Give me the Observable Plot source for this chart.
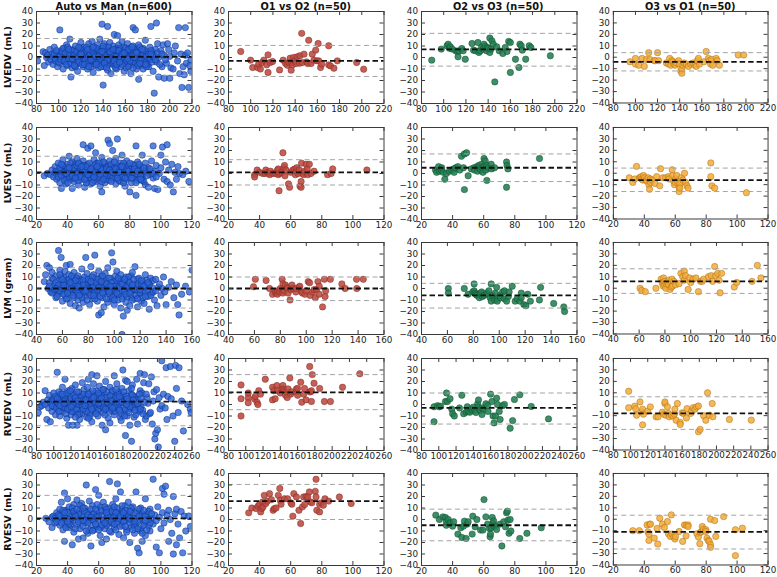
<!DOCTYPE html>
<html><head><meta charset="utf-8">
<script src="https://cdn.jsdelivr.net/npm/d3@7"></script>
<script src="https://cdn.jsdelivr.net/npm/@observablehq/plot@0.6"></script>
<style>
body{margin:0;background:#fff;}
#chart{position:relative;width:777px;height:577px;overflow:hidden;font-family:"DejaVu Sans",sans-serif;background:#fff;}
.ttl{position:absolute;font-weight:bold;font-size:9.8px;white-space:nowrap;color:#111;transform:translate(-50%,-50%);}
.ylab{position:absolute;font-weight:bold;font-size:9.5px;white-space:nowrap;color:#111;transform:translate(-50%,-50%) rotate(-90deg);}
.cell{position:absolute;}
</style></head><body><div id="chart"></div>
<script>
// ---------- labels ----------
const colTitles = ["Auto vs Man (n=600)", "O1 vs O2 (n=50)", "O2 vs O3 (n=50)", "O3 vs O1 (n=50)"];
const rowLabels = ["LVEDV (mL)", "LVESV (mL)", "LVM (gram)", "RVEDV (mL)", "RVESV (mL)"];
const xDomains = [[80,220],[20,120],[40,160],[80,260],[20,120]];
const xTickSets = [
  [80,100,120,140,160,180,200,220],
  [20,40,60,80,100,120],
  [40,60,80,100,120,140,160],
  [80,100,120,140,160,180,200,220,240,260],
  [20,40,60,80,100,120]
];
const yTicks = [-40,-30,-20,-10,0,10,20,30,40];

// ---------- bias and limits of agreement (per row) ----------
const biasAuto = [0.5, 1, 0, 2.5, 1];
const lowAuto  = [-15.5, -12, -17, -18.5, -18];
const highAuto = [16.5, 15, 18, 24, 21];
const biasO12 = [-3, 1, 0, 10.5, 16];
const lowO12  = [-16.5, -10, -10.5, -4.5, 0];
const highO12 = [10.5, 12, 10, 26, 30.5];
const biasO23 = [7, 5, -6, -3, -5];
const lowO23  = [-7.5, -7, -17, -17, -18.5];
const highO23 = [21, 17, 4.5, 10, 9];
const biasO31 = [-4, -6, 6, -8, -11];
const lowO31  = [-12, -16, -4.5, -22, -26];
const highO31 = [4, 4.5, 17, 6.5, 3.5];

// ---------- Auto vs Man ----------
const autoLVEDV = [[81,-3],[86,5],[87,-7],[88,4],[89,0],[90,2],[91,-4],[92,7],[93,-2],[94,3],[95,-6],[95,1],[96,9],[97,-3],[98,4],[99,-8],[99,0],[100,2],[101,24],[101,-5],[102,6],[103,-1],[104,3],[104,-10],[105,8],[106,0],[106,-4],[107,11],[108,2],[108,-7],[109,5],[110,16],[110,-2],[111,-17],[111,3],[112,-9],[113,7],[113,0],[114,-4],[115,10],[115,2],[116,-6],[117,4],[117,-12],[118,1],[119,8],[119,-3],[120,13],[120,-1],[121,5],[122,-8],[122,2],[123,9],[124,-4],[124,0],[125,6],[126,-10],[126,3],[127,12],[127,-2],[128,7],[128,-6],[129,1],[130,14],[130,-3],[131,4],[131,-13],[132,9],[132,0],[133,-7],[133,5],[134,2],[134,-4],[135,11],[135,-1],[136,6],[136,-9],[137,3],[137,16],[138,-5],[138,1],[139,29],[139,8],[139,-2],[140,-24],[140,4],[141,-8],[141,12],[142,0],[142,6],[143,-3],[143,9],[144,27],[144,-11],[144,2],[145,5],[145,-6],[146,13],[146,-1],[147,7],[147,-14],[148,3],[148,-4],[149,10],[149,0],[150,20],[150,-7],[150,5],[151,2],[151,-2],[152,8],[152,-10],[153,19],[153,1],[154,-5],[154,11],[155,4],[155,-1],[156,-8],[156,7],[157,0],[157,14],[158,-3],[158,5],[159,-12],[159,9],[160,2],[160,-5],[161,6],[161,-9],[162,0],[162,12],[163,-4],[163,3],[164,8],[164,-7],[165,1],[165,-14],[166,5],[166,-2],[167,26],[167,10],[168,-6],[168,3],[169,24],[169,-1],[170,7],[170,-10],[171,2],[171,-4],[172,-19],[172,11],[173,0],[173,5],[174,-7],[175,3],[176,-10],[176,8],[177,-3],[178,15],[178,1],[179,-5],[180,4],[181,-8],[182,9],[183,27],[183,-2],[184,5],[185,-12],[186,-31],[186,2],[187,7],[188,30],[188,-4],[189,12],[190,-17],[190,0],[192,6],[193,-8],[194,11],[195,-18],[195,2],[197,-5],[198,12],[199,7],[200,-18],[200,1],[201,-9],[203,-10],[204,4],[205,10],[207,-3],[208,26],[209,-14],[210,3],[211,-26],[212,-8],[213,-15],[214,26],[214,2],[215,-5],[216,4],[217,-26],[218,-7],[219,-2],[219,-12],
 [96,3],[97,-1],[98,6],[100,-4],[101,1],[102,-2],[103,5],[104,8],[105,-3],[106,4],[107,-6],[108,9],[109,-1],[110,3],[111,-5],[112,6],[113,-2],[114,2],[115,-8],[116,5],[117,0],[118,-4],[119,3],[120,7],[121,-6],[122,0],[123,4],[124,-2],[125,9],[126,-5],[127,1],[128,4],[129,-8],[130,6],[131,-1],[132,3],[133,-4],[134,8],[135,2],[136,-3],[137,5],[138,-8],[139,3],[140,-1],[141,7],[142,-4],[143,2],[144,-6],[145,9],[146,1],[147,-3],[148,6],[149,-5],[150,3],[151,-9],[152,1],[153,6],[154,-2],[155,8],[156,0],[157,-6],[158,3],[159,-1],[160,8],[161,-3],[162,4],[163,-8],[164,1],[165,6],[166,-4],[167,2],[168,7],[169,-5],[170,0],[171,5],[172,-2],[173,9],[174,2],[175,-5],[176,3],[177,6],[178,-3],[179,1],[180,-6],[181,3],[182,-1],[183,6],[184,-4],[185,1],[187,-2],[189,4],[191,-6],[193,3],[196,-2],
 [112,-1],[118,9],[121,2],[126,7],[129,-2],[133,1],[137,-1],[140,10],[144,-2],[147,4],[150,-3],[154,6],[157,3],[161,1],[164,-3],[168,0],[171,-7],[175,7],[179,-8],[183,3],[109,7],[114,-7],[123,-6],[131,9],[136,1],[141,-5],[146,5],[152,-6],[159,4],[163,7],[166,9],[170,4],[174,-1],[178,-6],[120,3],[127,-8],[134,-6],[139,5],[143,-9],[149,7],[155,-4],[162,-1],[167,-9],[173,-5]];
const autoLVESV = [[25,-2],[27,0],[29,-1],[30,3],[31,-3],[32,1],[32,6],[33,-5],[34,2],[34,9],[35,-1],[35,-8],[36,4],[36,-13],[37,0],[37,12],[38,-3],[38,6],[39,2],[39,-9],[40,8],[40,-2],[41,15],[41,1],[42,-5],[42,4],[43,-13],[43,10],[44,0],[44,-7],[45,6],[45,2],[46,-3],[46,13],[47,-10],[47,4],[48,0],[48,8],[49,-5],[49,2],[50,25],[50,11],[50,-2],[51,-12],[51,5],[52,1],[52,-6],[53,22],[53,8],[54,-3],[54,3],[55,24],[55,-9],[55,0],[56,6],[56,-4],[57,12],[57,1],[58,18],[58,-7],[58,4],[59,-1],[59,9],[60,2],[60,-5],[61,7],[61,-11],[62,-16],[62,0],[62,14],[63,4],[63,-3],[64,9],[64,-8],[65,1],[65,6],[66,29],[66,-2],[67,26],[67,11],[67,-6],[68,3],[68,-1],[69,20],[69,7],[70,-4],[70,2],[71,13],[71,-9],[72,30],[72,0],[73,5],[73,-2],[74,9],[74,-7],[75,1],[75,16],[76,-4],[76,4],[77,-11],[77,7],[78,0],[78,11],[79,-3],[80,-16],[80,5],[81,1],[81,-8],[82,8],[83,-2],[84,24],[84,-19],[84,3],[85,10],[86,-5],[86,1],[87,6],[88,16],[88,-3],[89,0],[90,9],[90,-10],[91,3],[92,-12],[92,5],[93,-1],[94,11],[95,24],[95,-4],[96,-13],[96,2],[97,7],[98,-14],[99,0],[100,5],[100,16],[101,23],[102,-5],[103,10],[104,25],[104,-7],[105,3],[106,-10],[107,8],[108,-16],[109,1],[110,-5],[111,6],[112,0],[114,-1],[116,2],[118,-7],
 [33,2],[34,-3],[35,5],[36,-2],[37,7],[38,1],[39,-5],[40,4],[41,-3],[42,9],[43,2],[44,-4],[45,8],[46,0],[47,-6],[48,5],[49,-2],[50,7],[51,1],[52,-8],[53,3],[54,9],[55,-4],[56,2],[57,-6],[58,8],[59,0],[60,-3],[61,5],[62,-7],[63,10],[64,1],[65,-5],[66,6],[67,-2],[68,8],[69,-4],[70,5],[71,-1],[72,7],[73,-6],[74,3],[75,-3],[76,9],[77,2],[78,-5],[79,6],[80,-1],[81,4],[82,-4],[83,7],[84,0],[85,-6],[86,5],[87,-2],[88,3],[89,-7],[90,2],
 [36,8],[38,-6],[40,-8],[42,0],[44,5],[46,7],[48,-3],[50,3],[52,6],[54,-1],[56,-8],[58,1],[60,9],[62,3],[64,-2],[66,2],[68,-7],[70,10],[72,-4],[74,6],[76,-8],[78,3],[80,9],[82,1],[84,-8],[86,8],[88,-6],[39,0],[41,5],[43,-2],[45,-4],[47,9],[49,6],[51,-5],[53,-1],[55,4],[57,-3],[59,6],[61,-1],[63,-5],[65,4],[67,3],[69,1],[71,4],[73,1],[75,6],[77,-4],[79,2],[81,-4],[83,4],[85,2],[87,-5],[89,5],[91,-2],[93,4],[95,0],[97,-3]];
const autoLVM = [[46,6],[47,12],[48,20],[49,0],[50,18],[50,5],[51,-3],[52,9],[52,14],[53,-3],[54,3],[55,-8],[55,11],[56,1],[57,33],[57,-5],[58,7],[58,16],[59,27],[59,-2],[60,4],[60,-11],[61,10],[61,0],[62,-6],[62,15],[63,20],[63,3],[64,-9],[64,7],[65,-1],[65,12],[66,21],[66,-13],[67,5],[67,-4],[68,9],[68,0],[69,-8],[69,14],[70,2],[70,-15],[71,6],[71,-3],[72,11],[72,-10],[73,-17],[73,1],[74,8],[74,-6],[75,4],[75,17],[76,-2],[76,-12],[77,10],[77,0],[78,27],[78,-7],[79,5],[79,13],[80,-4],[80,2],[81,-14],[81,8],[82,0],[82,19],[83,-9],[83,5],[84,12],[84,-3],[85,29],[85,1],[86,-6],[86,9],[87,-11],[87,3],[88,-23],[88,15],[89,-1],[89,6],[90,-21],[90,10],[91,-8],[91,2],[92,4],[92,-16],[93,13],[93,-3],[94,0],[94,7],[95,-12],[95,18],[96,3],[96,-5],[97,9],[97,-9],[98,31],[98,1],[99,23],[99,-2],[100,6],[100,-14],[101,11],[101,-6],[102,0],[102,15],[103,-10],[103,4],[104,8],[104,-3],[105,-17],[105,12],[106,-40],[106,2],[107,-24],[107,-7],[108,5],[108,-1],[109,10],[109,-12],[110,-19],[110,3],[111,-4],[111,7],[112,0],[112,-15],[113,11],[113,-8],[114,14],[114,-2],[115,4],[116,19],[116,-9],[117,1],[118,-16],[118,8],[119,-5],[120,3],[121,-11],[122,6],[122,-2],[123,-13],[124,12],[125,2],[126,-7],[127,-18],[128,9],[129,-4],[130,7],[131,-10],[132,8],[133,-15],[134,1],[136,-6],[137,0],[138,10],[140,-14],[142,1],[144,6],[146,-8],[148,3],[149,-14],[150,-23],[152,-5],[155,2],[158,-3],[160,16],
 [50,2],[52,-4],[53,8],[54,-1],[55,5],[56,-7],[57,3],[58,-2],[59,10],[60,0],[61,-5],[62,6],[63,-9],[64,2],[65,8],[66,-3],[67,11],[68,-6],[69,4],[70,-1],[71,9],[72,-4],[73,6],[74,1],[75,-8],[76,7],[77,-3],[78,3],[79,-10],[80,8],[81,0],[82,-6],[83,10],[84,2],[85,-4],[86,5],[87,-1],[88,8],[89,-7],[90,3],[91,11],[92,-3],[93,5],[94,-9],[95,1],[96,9],[97,-2],[98,5],[99,-8],[100,2],[101,-1],[102,7],[103,-5],[104,1],[105,6],[106,-9],[107,4],[108,-3],[109,2],[110,-7],[111,10],[112,5],[113,-2],[114,-10],[115,8],[116,-1],[117,-6],[118,3],[119,9],[120,-4],[121,4],[122,-8],[123,2],[124,-3],[125,7],[126,-1],[127,4],[128,-6],[129,1],[130,-3],
 [55,0],[58,12],[61,3],[64,-4],[67,0],[70,7],[73,-6],[76,3],[79,0],[82,6],[85,-9],[88,1],[91,-4],[94,4],[97,2],[100,-10],[103,9],[106,4],[109,-5],[112,-4],[115,0],[118,-9],[121,7],[124,-7],[127,3],[60,8],[66,5],[72,2],[78,-2],[84,-6],[90,6],[96,-3],[102,-4],[108,8],[114,3],[120,-1],[126,5],[132,-2],[135,4],[139,-3]];
const autoRVEDV = [[82,-7],[84,-2],[86,-1],[88,2],[90,12],[90,0],[92,-13],[93,4],[94,-3],[95,8],[96,-15],[97,1],[98,-6],[99,5],[100,10],[100,-2],[101,3],[102,-9],[103,6],[104,28],[104,0],[105,-4],[106,11],[107,-10],[107,2],[108,7],[109,-1],[110,15],[110,-6],[111,4],[112,-3],[113,22],[113,9],[114,0],[115,-12],[115,5],[116,2],[117,-18],[117,12],[118,-5],[119,7],[120,1],[120,-9],[121,14],[122,-18],[122,3],[123,-2],[124,9],[125,-7],[125,17],[126,0],[127,-18],[127,5],[128,-4],[129,11],[130,2],[130,-13],[131,7],[132,-1],[133,19],[133,-8],[134,4],[135,0],[135,13],[136,-5],[137,8],[138,-11],[138,2],[139,15],[140,22],[140,-3],[141,6],[142,-8],[142,10],[143,1],[144,26],[144,-15],[145,4],[146,-2],[146,18],[147,7],[148,-6],[149,12],[150,25],[150,0],[151,-10],[152,5],[153,16],[153,-4],[154,9],[155,1],[156,-18],[156,6],[157,-7],[158,13],[159,2],[160,-22],[160,20],[161,-3],[162,8],[163,-12],[164,4],[165,-16],[165,15],[166,0],[167,10],[168,-6],[169,3],[170,25],[170,-9],[171,7],[172,-1],[173,18],[174,-4],[175,11],[176,1],[177,-11],[178,-14],[178,6],[179,14],[180,30],[180,-2],[181,8],[182,-7],[183,-27],[183,21],[184,3],[185,20],[185,-10],[186,0],[187,12],[188,-18],[188,5],[189,-4],[190,-32],[190,9],[191,17],[192,-1],[193,-11],[194,7],[195,0],[196,22],[197,-17],[198,4],[199,-6],[200,27],[200,12],[201,-2],[202,10],[203,-5],[204,19],[205,26],[206,-13],[207,-10],[208,6],[209,1],[210,18],[211,-8],[212,-7],[213,24],[214,-17],[215,3],[216,11],[217,-30],[218,-25],[219,13],[220,-22],[221,-37],[222,6],[223,-4],[225,38],[225,-1],[227,9],[229,-3],[230,32],[231,-13],[232,7],[235,33],[236,5],[238,-10],[240,-32],[241,34],[242,14],[244,-7],[245,32],[248,3],[250,-23],[255,0],[258,-4],[259,-7],
 [96,2],[98,-1],[100,4],[102,7],[103,-3],[105,1],[106,-6],[108,9],[109,3],[111,-2],[112,6],[114,-8],[115,10],[117,1],[118,-3],[120,5],[121,-6],[123,8],[124,2],[126,-4],[127,11],[129,0],[130,-8],[132,6],[133,-2],[135,9],[136,3],[138,-6],[139,7],[141,0],[142,-10],[144,5],[145,12],[147,-3],[148,2],[150,8],[151,-5],[153,4],[154,-1],[156,10],[157,0],[159,-9],[160,6],[162,2],[163,-4],[165,8],[166,-2],[168,12],[169,4],[171,-6],[172,1],[174,9],[175,-3],[177,5],[178,-8],[180,2],[181,11],[183,-4],[184,7],[186,-1],[187,-7],[189,3],[190,14],[192,-3],[193,6],[195,-9],[196,4],[198,-2],[199,9],[201,5],[203,-8],[205,2],[207,9],
 [104,5],[107,-1],[110,9],[113,3],[116,-4],[119,12],[122,0],[125,6],[128,-9],[131,3],[134,-4],[137,4],[140,9],[143,-2],[146,6],[149,-8],[152,1],[155,6],[158,-3],[161,11],[164,-6],[167,3],[170,-2],[173,6],[176,-5],[179,2],[182,-10],[185,5],[188,-2],[191,8],[194,-5],[197,1],[112,1],[120,-2],[128,3],[136,-1],[144,-4],[152,10],[160,-4],[168,-3],[176,7],[184,0],[192,4],[200,-4],[125,-11],[140,-12],[157,13],[172,13]];
const autoRVESV = [[26,1],[28,-2],[30,-7],[30,2],[31,3],[32,-3],[33,6],[34,0],[35,-5],[35,9],[36,15],[36,2],[37,-9],[37,5],[38,-19],[38,23],[38,-1],[39,8],[39,-4],[40,18],[40,1],[41,-7],[41,11],[42,3],[42,-2],[43,-22],[43,7],[44,-11],[44,13],[45,0],[45,5],[46,-5],[46,17],[47,-17],[47,2],[48,9],[48,-8],[49,-1],[49,14],[50,-16],[50,4],[51,-3],[51,10],[52,30],[52,0],[53,7],[53,-12],[54,2],[54,16],[55,-23],[55,-5],[56,5],[56,12],[57,-1],[57,-9],[58,26],[58,3],[59,8],[59,-6],[60,21],[60,0],[61,-14],[61,11],[62,-20],[62,4],[63,-2],[63,15],[64,7],[64,-8],[65,-17],[65,1],[66,10],[66,-4],[67,33],[67,5],[68,-11],[68,2],[69,13],[69,-1],[70,-7],[70,8],[71,3],[71,18],[72,31],[72,-3],[73,6],[73,-13],[74,24],[74,0],[75,9],[75,-5],[76,2],[76,-16],[77,12],[77,-1],[78,5],[78,-9],[79,0],[79,15],[80,-20],[80,3],[81,-6],[81,8],[82,-2],[82,11],[83,-12],[83,1],[84,24],[84,-4],[85,-25],[85,6],[86,-29],[86,0],[87,-8],[87,10],[88,-19],[88,3],[89,-3],[90,18],[90,-14],[91,5],[92,-6],[93,-10],[93,9],[94,1],[95,35],[95,-4],[96,4],[97,-24],[97,-1],[98,11],[99,-29],[99,2],[100,-8],[101,27],[101,6],[102,22],[102,-3],[103,29],[104,4],[105,-19],[105,8],[106,0],[107,-12],[108,20],[108,-30],[109,5],[110,-22],[110,9],[111,-4],[112,-16],[113,7],[114,-29],[115,3],[116,-10],[118,3],[119,-6],
 [32,1],[33,-2],[34,4],[36,-3],[37,8],[38,2],[39,-7],[40,6],[41,0],[42,-5],[43,10],[44,2],[45,-8],[46,4],[47,-2],[48,12],[49,3],[50,-6],[51,7],[52,-1],[53,4],[54,-9],[55,9],[56,0],[57,5],[58,-4],[59,13],[60,3],[61,-7],[62,8],[63,-1],[64,11],[65,-5],[66,4],[67,-10],[68,7],[69,-3],[70,2],[71,-9],[72,10],[73,1],[74,-6],[75,5],[76,-2],[77,8],[78,-11],[79,4],[80,-3],[81,10],[82,1],[83,-6],[84,6],[85,-2],[86,9],[87,-10],[88,5],[89,-5],[90,3],[91,-9],[92,7],[93,-3],[94,5],
 [35,3],[38,6],[41,-4],[44,7],[47,5],[50,10],[53,-3],[56,-10],[59,2],[62,-5],[65,9],[68,-2],[71,6],[74,3],[77,-6],[80,7],[83,-2],[86,3],[89,8],[92,0],[40,-2],[45,3],[50,-1],[55,2],[60,-9],[65,6],[70,-4],[75,12],[80,1],[85,-8],[90,-1],[46,9],[52,-10],[58,9],[64,-3],[70,11],[76,6],[82,-9],[88,-12]];

// ---------- O1 vs O2 ----------
const o12LVEDV = [[91,5.2],[99.9,-2.3],[101.8,-8.7],[106.2,-8.7],[107.1,-5.8],[108.7,-10],[110.3,-4.4],[111.8,-2.3],[114.4,-6.4],[115.6,2.3],[115.6,-13],[117.5,-4.4],[119.7,-3.5],[126,-10.8],[129.2,-2.3],[131.4,-5.2],[133,-6.7],[134.5,-4.4],[135.5,-0.6],[136.4,-11],[137,-4.4],[137.7,-6.4],[138.6,0],[139.6,-2.9],[140.9,-5.2],[141.8,0.6],[144,-5],[144.3,1.5],[145.9,21],[146.5,-4.4],[148,2.9],[150.3,-3.8],[151.3,-5.2],[152.2,15],[154.4,-5.2],[155.4,2.9],[156.9,-2.3],[158.5,6.4],[159.8,-2.9],[160.7,12.2],[161.3,-2.9],[162.9,-8.7],[163.9,-5.8],[170.2,-6.4],[170.2,10.2],[171.8,-7.3],[174.9,-9.3],[178,-2.9],[195.4,-4.4],[201.7,-10.2]];
const o12LVESV = [[36.8,-1],[36.8,-3],[38.4,3],[40,1],[42,0],[43.5,0],[44,3],[45,1],[46,0],[46.5,-1],[47,2],[48.7,0],[50.5,0],[51.5,3],[52,-1],[52,4],[52.5,-15],[53,0],[54,1],[55,18],[55.6,5],[56,7],[56.3,-2],[57,3],[58.6,-9],[59.3,-12],[60,1],[61.4,3],[62.5,4],[63,-1],[63.7,2],[64,5],[64.8,0],[65.5,3],[66,-11],[66.7,-7],[66.7,-12],[67,9],[67.6,0],[68.3,-1],[69,2],[70,8],[70.6,4],[71,-1],[72,8],[73,0],[75,2],[83.7,-1],[86,0],[87,4],[109,3]];
const o12LVM = [[59.3,1.5],[60.7,8],[69,7],[71.7,0],[74,-5],[76,-3],[76.7,-4],[77.8,-5],[78,-2],[79.5,-3],[80,0],[81.4,8],[82,4],[82,-4],[83,-2],[84,3],[85.5,1],[85.5,0],[86,-4],[87.5,-10],[88.3,-1],[89,3],[89.7,0],[92,-3],[92.4,0],[94.4,1],[95,2],[96.6,-3],[97,-4],[99,-5],[100,-2],[101.5,6],[102.6,5],[103,-6],[104.8,-3],[106,-1],[107,-8],[108,-1],[109,6],[110,-5],[110,2],[112.6,-16],[114,8],[114.5,-7],[115,-2],[118.6,8],[127.5,4],[130,0],[138.8,8],[139,0],[144,8]];
const o12RVEDV = [[94.5,17],[94.5,5],[94.5,-10],[102.8,6],[102.8,10],[102.8,1.5],[110,5],[111,7],[113,2],[114,0],[115,12],[117,9],[122.6,22],[131,4],[131,15],[132.5,12],[134,5],[136,16.5],[136.7,12],[140,10],[142,14],[143,16.5],[144,13],[145,11],[146,8],[148,6],[149,13.6],[151,23],[152,9],[153,11],[158.6,11],[158.6,13.6],[160,14],[160,8],[163.6,19.4],[164.8,2],[167,9],[168,14],[169.8,4],[174,33],[174,11],[175,11],[176,12],[176,2.6],[177,26],[179,18.5],[185.5,14],[191,2.6],[198,2.6],[212,15],[232,26.7]];
const o12RVESV = [[33,5.8],[35,10],[37.7,9.5],[39,11.6],[40,13.3],[40.7,6.6],[41.4,9.5],[42,15.3],[42.3,11],[43,21],[44,13.9],[45,16],[46.4,22.5],[47.6,17.3],[48.7,8],[49.4,9.5],[50.6,10],[52,21],[53,27],[53.3,16.8],[53.8,13.3],[56,18],[58,18],[60.2,14.5],[60.7,13.3],[61.4,2.9],[62,22.5],[63.7,19.6],[65.3,8],[66.4,-3.5],[67.6,11],[68.3,19.6],[69,13],[70,20],[71,19.6],[72,24],[72.8,15.3],[73.6,14.5],[75.8,24.5],[76.3,19.6],[76.3,35],[76.8,8],[78.6,6.6],[78.6,13.3],[79.8,14.5],[81,12.4],[82,18],[84.4,16],[91.3,19.6],[98.9,13.9]];

// ---------- O2 vs O3 ----------
const o23LVEDV = [[89.2,-2.3],[97.8,7.3],[103,10.2],[104,11.6],[105.2,8],[106,9.3],[107.7,7.3],[110.8,5.8],[112.3,5.2],[112.9,0.6],[113.8,5.8],[116.3,7.8],[117.5,5.8],[119.4,-1.5],[125.5,12.2],[126.8,6.4],[128.6,5.8],[130.8,13],[131.7,4.4],[133,5.8],[134,8.7],[135.4,7.3],[136.3,11.6],[137.5,9.6],[138.5,5.8],[139.4,8.7],[140.3,8],[141.5,16.9],[141.5,4.4],[142.5,7.3],[143.4,14.5],[144.6,11.6],[146,-21.2],[147.7,9.3],[150,5.8],[153.2,3.5],[155.4,8.7],[157,5.2],[158.5,14],[160,13],[160,-13],[164.6,-1.5],[167.7,-8.7],[168.6,11.6],[169.8,10.2],[170.8,6.4],[173.8,-1.5],[177,10.2],[178.5,8.7],[196,1.5]];
const o23LVESV = [[29,3],[29.7,1],[31,6],[31.5,2],[32.6,3],[33,5],[34,1],[35,-5],[36,0],[38,2],[39.5,3],[40.7,4],[41,1],[42,5],[43.4,6],[44.6,3],[45.7,15],[47,5],[47.6,17],[47.6,-14],[49,18],[50,-2],[52,4],[53.8,5],[54,3],[55.6,6],[56,2],[56.8,7],[57,5],[58,3],[58.6,8],[59,5],[59.5,1],[60.2,6],[60.2,13],[61,11],[61.4,3],[62,-6],[62,7],[63,5],[64.8,8],[65,4],[67,5],[74.7,10],[75,7],[75.6,4],[74.7,-12],[95.9,13]];
const o23LVM = [[60.7,0],[60.7,-4],[73,0],[76,-5],[79.5,-3],[80.6,4],[80.6,-2],[81.4,-4],[82,-5],[82.8,-6],[84.7,-8],[85.5,-4],[86.4,-3],[87,-7],[88.3,-6],[90,-4],[91,-5],[92,-2],[93,-8],[93.8,4],[93.8,-11],[95,-6],[96.6,-10],[97,-4],[98,1],[98.5,-9],[98.5,-11],[100.7,-6],[101,-8],[102.6,-3],[104,-2],[104,-9],[105.7,-11],[107,-7],[107.6,-3],[110,2],[112.3,-11],[113.7,-9],[115.9,-11],[117,-4],[117,-8],[119,-14],[120.6,-15],[122,-5],[124,-11],[131,-10],[131.9,1],[142,-13],[149.8,-16],[150.4,-20]];
const o23RVEDV = [[94.5,-15],[94.5,-2],[98.6,-1],[100.7,-2],[102,-1.5],[107.7,2.6],[109,10],[110,2.6],[113,5],[115,-4],[116,-8],[118,-10],[124,-3],[126.7,8],[128.8,-8],[131.7,-6.7],[133,-2],[134,-6],[136,-6.7],[138,-4],[139,-5],[140,-2.3],[142,-5],[143,-7],[145,0.6],[145.4,-2.3],[146,4],[148,-5],[150,-8.7],[150,-3],[152,-4],[154.5,0.6],[156.6,-1],[157,-6],[160,9],[161.5,2.6],[162.8,-10],[164,-16],[165.7,-10],[167,5.5],[168,0],[170,-6],[171,-13],[174,-1],[176,0],[182.6,-20.6],[185.5,-14],[187.6,4.3],[193.8,8.4],[207,-1.7],[227,-12.5]];
const o23RVESV = [[29.2,3.8],[31.5,0],[33.8,2.3],[35.4,1.7],[36,-5],[36,-2],[37.2,0],[38.4,-2.9],[40,-5.8],[40.7,-2],[43.4,-12.7],[45.3,-7.2],[46,-15.6],[47,-5.8],[47.6,-1.4],[48.7,-16.5],[49.4,-4],[50,-2],[52.6,-12.7],[53,2.9],[54.5,-6.4],[55.6,0],[58,-9.2],[59.5,-9.2],[60.2,17.3],[61.4,2.3],[62.5,-4],[63.7,-7.8],[64.1,-15],[64.4,-12.7],[64.8,-7.2],[65.5,1.7],[66,-3.5],[66.4,-1.2],[67,-5.8],[68.3,-8.7],[70.5,-4],[71.7,-23],[72.9,-2],[74,-6.4],[74.7,5.8],[75.2,7.2],[75.6,-0.6],[76.3,-12],[77,0],[77.5,-10],[83.2,-16.5],[87.8,-12],[97,-7.2]];

// ---------- O3 vs O1 ----------
const o31LVEDV = [[95,-4],[100,-6],[100,-1],[103,-7],[106,-1],[108,-8],[110,-2],[112,4],[113,-2],[117,-3],[118,-3],[120,4],[121,-3],[128,-5],[130,-6],[131,-1],[132,-7],[133,-3],[134,-4],[135,-6],[136,-7],[137,-5],[139,-3],[140,-6],[141,-12],[142,-14],[142,-10],[143,-7],[144,-5],[146,-6],[148,-8],[150,-6],[152,-5],[154,-7],[155,-8],[156,-3],[157,-1],[158,-6],[162,-4],[164,5],[166,-1],[167,-3],[168,-6],[169,-2],[170,-7],[173,-1],[174,-3],[176,-7],[193,2],[198,2]];
const o31LVESV = [[30.3,-4],[32.6,-8],[33.8,-5],[35,6],[36.8,-4],[37.5,-4],[38,-3],[38.4,-5],[39,-6],[39.5,-2],[40.2,-4],[41,-6],[41.8,-7],[42.5,-4],[43,-10],[43.4,-14],[44,-8],[44,-5],[45,-6],[47,-9],[48,-3],[50,-11],[50.5,4],[52,-4],[53.8,-4],[55.6,-3],[56,-5],[58,3],[58.4,-2],[59,-7],[59.5,-10],[60,-8],[60.2,-5],[61,-2],[61.4,-7],[62.5,-12],[62.5,-16],[63,-9],[63,-13],[64,-4],[65,-6],[66,0],[66.7,-8],[67.6,-11],[68.3,-13],[83,9],[83,-3],[83.7,-11],[85.5,-13],[106,-17]];
const o31LVM = [[60.7,0],[62,-2],[64.8,-3],[73,0],[77,8],[77.8,5],[78.6,2],[79,9],[79.5,3],[80,6],[80.6,0],[81,4],[82,5],[82.8,3],[83,7],[84,-1],[85,1],[85.5,8],[86,2],[87,6],[88.3,3],[91,4],[92.4,13],[93.8,10],[95,15],[95,7],[96,11],[98,-1],[99.3,9],[100,5],[102,8],[104,9],[106,-3],[107.6,6],[109,6],[110,8],[113.7,10],[115.9,11],[117,6],[118.6,19],[119.4,11],[121,13],[122,7],[122.8,-4],[124,13],[133.8,1],[135.7,5],[147.6,6],[151.7,20],[154.5,9]];
const o31RVEDV = [[97.8,11.3],[97.8,-3],[104.8,-1.7],[106,-4],[107,-9.6],[111,2],[113,-6.7],[114,-4.3],[114,-18],[115,-8.7],[120,-6],[123,-2.3],[129.7,-11],[132,-11],[137,-7],[139,-9],[140,0.6],[140,2],[141,-9.6],[143,-2.3],[144,-8],[145,-11],[147.4,-9.6],[149.5,-10.4],[151,-8.7],[151.6,-4.3],[153,-14],[154.5,0.6],[157.8,-16],[157.8,-17.7],[160,-7.5],[161.5,-8],[165,-12],[165.7,-3.8],[170,-8],[171,-6],[173,-3],[175,-4.3],[177,-2.3],[179,-24],[179,-1.5],[181,-22],[185,-10],[187.6,-14],[189.6,10],[191.7,-9.6],[195,0.6],[195.8,-11],[215,-13.3],[240.5,-13.9]];
const o31RVESV = [[32.6,-10],[36.8,-10],[41.8,-5],[42.3,-11],[43,-18.5],[43,-13],[43.5,-4.3],[44,-4.3],[46.4,-16.5],[48.3,-8],[48.7,-21.7],[50,0.9],[51.7,-4.3],[53,-7.2],[55,-2],[55.6,-12.7],[56.8,-15],[57.5,3.8],[58,-13],[59,-15.6],[59.8,-17.3],[60.2,-15],[62.5,-10.7],[64.8,-19.4],[66,-5],[67,-5.2],[67,-14.5],[68.3,-5],[68.3,-6.4],[74,-12.7],[75,-15.6],[75.9,-21.4],[76.3,-11.6],[77,-10.7],[77.5,-6.4],[78.2,-8.7],[79.8,-9.2],[79.8,-10.7],[80.5,-16.5],[81.4,-18.5],[82,-19.4],[82.8,-22.3],[82.8,-24.6],[82.8,0],[85.5,-1.2],[86.2,-15],[91.3,2.3],[98.9,-9.2],[98.9,-31.8],[103.4,-7.8]];

// ---------- assembly ----------
const columns = [
  {data: [autoLVEDV, autoLVESV, autoLVM, autoRVEDV, autoRVESV], bias: biasAuto, low: lowAuto, high: highAuto,
   fill: "#2a62d4", stroke: "#0b2f86", fo: 0.78},
  {data: [o12LVEDV, o12LVESV, o12LVM, o12RVEDV, o12RVESV], bias: biasO12, low: lowO12, high: highO12,
   fill: "#bd4a40", stroke: "#7e2b24", fo: 0.88},
  {data: [o23LVEDV, o23LVESV, o23LVM, o23RVEDV, o23RVESV], bias: biasO23, low: lowO23, high: highO23,
   fill: "#237f52", stroke: "#0f4c2f", fo: 0.88},
  {data: [o31LVEDV, o31LVESV, o31LVM, o31RVEDV, o31RVESV], bias: biasO31, low: lowO31, high: highO31,
   fill: "#f2ab3a", stroke: "#a96c12", fo: 0.85}
];

const colLeft = [36, 228, 420.5, 612.5];
const rowTop = [11, 126.5, 242, 357.5, 473];
const PW = 155.5, PH = 92;
const mL = 26, mR = 10, mT = 4, mB = 13;
const fmt = d => d < 0 ? "\u2212" + (-d) : String(d);
const frameColor = "#3a3a3a";
const chart = document.getElementById("chart");

colTitles.forEach((t, c) => {
  const el = document.createElement("div");
  el.className = "ttl";
  el.textContent = t;
  el.style.left = (colLeft[c] + PW / 2) + "px";
  el.style.top = "5.5px";
  chart.appendChild(el);
});
rowLabels.forEach((t, r) => {
  const el = document.createElement("div");
  el.className = "ylab";
  el.textContent = t;
  el.style.left = "7px";
  el.style.top = (rowTop[r] + PH / 2) + "px";
  chart.appendChild(el);
});

for (let r = 0; r < 5; r++) {
  for (let c = 0; c < 4; c++) {
    const col = columns[c];
    const xt = xTickSets[r];
    const svg = Plot.plot({
      width: PW + mL + mR,
      height: PH + mT + mB,
      marginLeft: mL, marginRight: mR, marginTop: mT, marginBottom: mB,
      style: {fontFamily: "DejaVu Sans, sans-serif", fontSize: "8.8px", color: "#222", background: "transparent", overflow: "visible"},
      x: {domain: xDomains[r]},
      y: {domain: [-40, 40]},
      marks: [
        Plot.dot(col.data[r], {x: d => d[0], y: d => d[1], r: 3.2, fill: col.fill, fillOpacity: col.fo,
          stroke: col.stroke, strokeOpacity: 0.8, strokeWidth: 0.6, clip: true}),
        Plot.ruleY([col.low[r], col.high[r]], {stroke: "#a3a3a3", strokeWidth: 1, strokeDasharray: "5,3.5"}),
        Plot.ruleY([col.bias[r]], {stroke: "#111", strokeWidth: 1.8, strokeDasharray: "5.5,3"}),
        Plot.tickX(xt, {x: d => d, insetTop: PH - 4, stroke: frameColor}),
        Plot.tickX(xt, {x: d => d, insetBottom: PH - 4, stroke: frameColor}),
        Plot.tickY(yTicks, {y: d => d, insetRight: PW - 4, stroke: frameColor}),
        Plot.tickY(yTicks, {y: d => d, insetLeft: PW - 4, stroke: frameColor}),
        Plot.frame({stroke: frameColor, strokeWidth: 1}),
        Plot.axisX({ticks: xt, tickSize: 0, tickPadding: 2, tickFormat: fmt, label: null}),
        Plot.axisY({ticks: yTicks, tickSize: 0, tickPadding: 3.5, tickFormat: fmt, label: null})
      ]
    });
    const wrap = document.createElement("div");
    wrap.className = "cell";
    wrap.style.left = (colLeft[c] - mL) + "px";
    wrap.style.top = (rowTop[r] - mT) + "px";
    wrap.appendChild(svg);
    chart.appendChild(wrap);
  }
}
</script></body></html>
